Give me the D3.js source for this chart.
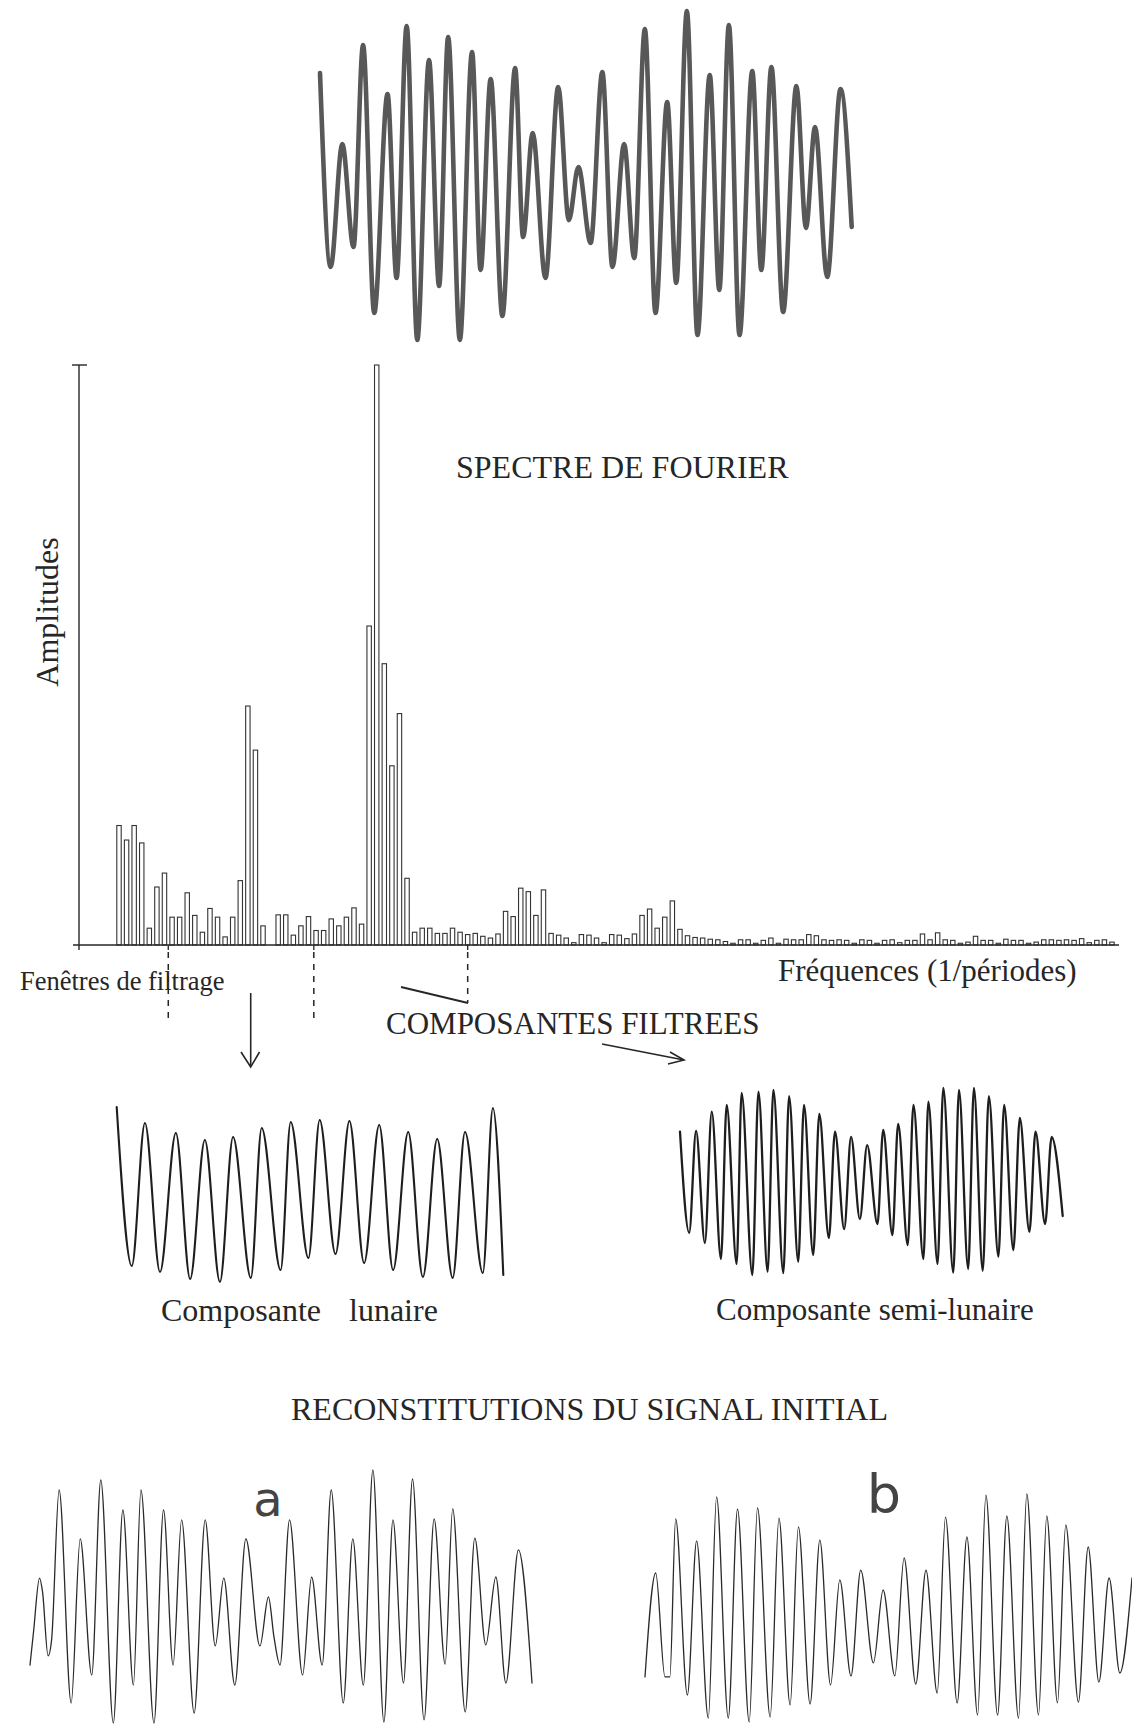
<!DOCTYPE html>
<html><head><meta charset="utf-8">
<script src="https://cdn.jsdelivr.net/npm/d3@7"></script>
<style>html,body{margin:0;padding:0;background:#fff;} svg{display:block}</style>
</head><body>
<svg id="c" width="1132" height="1724"></svg>
<script>
// ---------- DATA ----------
// Fourier spectrum: amplitude of each frequency bin (tallest = 100)
const spectrumAmp = [
 20.6,18.1,20.6,17.6,2.9,10.0,12.4,4.8,4.8,9.0,
 5.1,2.2,6.3,4.8,1.4,4.8,11.1,41.2,33.6,3.3,
 0,5.2,5.2,1.7,3.3,4.9,2.5,2.5,4.5,3.3,
 4.8,6.4,3.6,55.0,100,48.5,30.9,39.9,11.5,2.2,
 2.9,2.9,2.0,2.0,2.9,2.2,1.8,2.0,1.5,1.2,
 1.9,5.8,4.9,9.8,9.2,5.1,9.5,2.0,1.7,1.2,
 0.4,1.8,1.7,1.2,0.4,1.8,1.7,1.1,1.9,5.1,
 6.2,2.9,4.8,7.6,2.7,1.6,1.3,1.2,1.0,0.9,
 0.6,0.3,0.9,0.9,0.3,0.8,1.2,0.3,1.0,0.9,
 0.9,1.8,1.6,0.9,0.8,0.9,0.8,0.3,0.9,0.8,
 0.3,0.8,0.9,0.4,0.8,0.8,1.9,0.9,2.1,0.9,
 0.8,0.3,0.5,1.5,0.8,0.8,0.3,1.0,0.8,0.8,
 0.3,0.5,0.9,0.9,0.8,0.9,0.8,1.1,0.4,0.8,
 0.9,0.5
];
// Filter window boundaries (in frequency-bin units)
const windowFreq = [6.5, 25.7, 46.0];

// Original signal: successive extremes (time 0-100, amplitude -100..100)
const signalT = [0,2.0,4.2,6.3,8.1,10.2,12.7,14.4,16.3,18.3,20.5,22.4,24.1,26.3,28.6,30.2,32.1,34.3,36.7,38.2,40.0,42.4,44.8,46.8,48.6,50.9,53.1,55.0,57.2,59.1,61.1,63.1,65.3,67.0,69.0,71.0,73.3,75.1,76.9,78.9,81.3,83.0,84.9,87.1,89.6,91.4,93.1,95.4,97.9,100];
const signalV = [62.3,-55.6,19.1,-43.5,79.3,-83.6,49.5,-62.3,90.9,-100,70.2,-67.2,84.2,-100,75.1,-57.4,58.7,-85.4,65.3,-37.4,25.8,-62.3,53.8,-27.1,5.2,-41.0,62.9,-55.6,19.1,-50.2,89.1,-83.6,44.7,-65.3,100,-97.0,61.1,-69.6,91.5,-97.0,63.5,-57.4,66.0,-83.0,54.4,-31.9,29.5,-61.7,52.6,-31.3];

// Lunar component
const lunarT = [0,3.9,7.3,11.2,15.3,19.0,22.8,26.7,30.1,34.7,37.5,42.4,45.0,49.6,52.5,56.6,60.2,64.0,67.9,71.5,75.4,79.2,82.9,86.9,90.1,94.7,97.3,100];
const lunarV = [100,-81.7,81.7,-88.6,70.3,-96.6,62.3,-100,65.7,-95.4,76.0,-86.3,82.9,-72.6,85.1,-68.0,84.0,-78.3,79.4,-86.3,71.4,-94.3,63.4,-95.4,71.4,-89.7,98.9,-92.0];

// Semi-lunar component
const semiT = [0,2.4,4.2,6.5,8.3,10.7,12.2,14.8,16.1,18.9,20.5,22.9,24.4,27.0,28.5,30.9,32.4,34.8,36.4,38.9,40.5,42.9,44.7,47.0,48.9,51.6,53.1,55.5,57.0,59.5,61.0,63.6,64.9,67.3,68.8,71.4,72.9,75.3,76.8,79.1,80.7,83.2,84.7,87.1,88.8,91.3,92.9,95.4,97.1,100];
const semiV = [53.3,-54.8,54.0,-65.8,74.7,-82.9,81.8,-88.2,94.7,-100,96.0,-96.5,97.9,-97.9,91.4,-85.8,81.8,-78.6,72.2,-60.4,53.3,-50.8,47.6,-40.1,39.0,-45.5,55.1,-57.2,61.5,-67.9,81.8,-82.9,85.3,-88.2,100,-97.5,97.9,-93.6,100,-95.4,91.4,-80.4,81.8,-73.3,67.9,-53.7,53.3,-45.5,47.6,-36.9];

// Reconstruction a
const recAT = [0,0.7,1.9,2.5,3.6,4.3,5.8,8.2,10.0,12.3,14.1,16.6,18.5,20.6,22.1,24.7,26.6,28.5,30.2,32.7,34.9,36.9,38.6,40.8,43.0,45.8,47.5,48.6,49.8,51.7,54.3,56.1,58.2,60.0,62.4,64.3,66.4,68.3,70.5,72.3,74.4,76.2,78.5,80.5,82.7,84.2,86.7,88.6,90.8,92.8,94.8,97.3,100];
const recAV = [-54.2,-28.1,14.6,3.6,-47.0,-34.4,84.2,-84.2,45.5,-62.1,92.1,-100,68.4,-70.0,84.2,-100,68.4,-54.2,60.5,-92.1,60.5,-39.1,14.6,-70.0,45.5,-39.1,-0.4,-32.0,-54.2,60.5,-62.1,15.4,-54.2,84.2,-84.2,45.5,-70.0,100,-99.2,60.5,-68.4,92.9,-97.6,61.3,-53.4,69.2,-91.3,46.2,-38.3,15.4,-68.4,36.8,-68.4];

// Reconstruction b
const recBT = [0,2.2,4.1,5.1,6.3,8.7,10.6,13.0,14.7,17.1,19.0,21.4,23.1,25.7,27.5,29.8,31.5,33.9,35.9,38.1,40.0,42.3,44.3,46.9,48.9,51.3,53.2,55.6,57.7,60.0,61.7,64.1,66.1,68.3,70.0,72.4,74.3,76.7,78.4,80.8,82.5,84.7,86.4,89.0,91.0,93.2,95.3,97.5,100];
const recBV = [-60.5,30.7,-60.5,-60.5,78.1,-76.3,58.8,-96.5,97.4,-96.5,86.8,-100,87.7,-95.6,78.9,-85.1,71.1,-84.2,59.6,-67.5,24.6,-59.6,33.3,-48.2,15.8,-59.6,43.9,-66.7,33.3,-74.6,79.8,-83.3,62.3,-93.9,99.1,-93.9,80.7,-96.5,100,-93.9,80.7,-83.3,72.8,-82.5,53.5,-64.9,26.3,-57.0,26.3];

// Text labels
const titleSpectrum = "SPECTRE DE FOURIER";
const yLabel = "Amplitudes";
const xLabel = "Fréquences (1/périodes)";
const windowLabel = "Fenêtres de filtrage";
const titleComponents = "COMPOSANTES FILTREES";
const lunarLabel = ["Composante", "lunaire"];
const semiLabel = "Composante semi-lunaire";
const titleRecon = "RECONSTITUTIONS DU SIGNAL INITIAL";
const panelLetters = ["a", "b"];

// ---------- DRAWING ----------
const svg = d3.select("#c");
svg.append("rect").attr("width",1132).attr("height",1724).attr("fill","#fff");
const serif = "'Liberation Serif','Times New Roman',serif";
const ink = "#262626";

function wave(T, V, box, style) {
  const x = d3.scaleLinear().domain([0,100]).range([box.x0, box.x1]);
  const y = d3.scaleLinear().domain([-100,100]).range([box.yb, box.yt]);
  const line = d3.line().x(d => x(d[0])).y(d => y(d[1])).curve(style.curve || d3.curveMonotoneX);
  svg.append("path").datum(T.map((t,i)=>[t,V[i]]))
    .attr("d", line).attr("fill","none")
    .attr("stroke", style.color).attr("stroke-width", style.width)
    .attr("stroke-linejoin","round").attr("stroke-linecap","round");
}

// Original signal (top)
wave(signalT, signalV, {x0:320, x1:851.7, yt:11, yb:340}, {color:"#585858", width:4.6});

// Spectrum
const xBin = d3.scaleLinear().domain([0, spectrumAmp.length-1]).range([119, 119 + (spectrumAmp.length-1)*7.58]);
const yAmp = d3.scaleLinear().domain([0,100]).range([945, 365]);
const barW = 4.4;
const g = svg.append("g");
g.selectAll("rect.bar").data(spectrumAmp).join("rect")
  .attr("class","bar")
  .attr("x", (d,i) => xBin(i) - barW/2)
  .attr("y", d => yAmp(d))
  .attr("width", barW)
  .attr("height", d => yAmp(0) - yAmp(d))
  .attr("fill","#fff").attr("stroke", "#333").attr("stroke-width", 1.1);
// axes
g.append("line").attr("x1",79).attr("x2",79).attr("y1",yAmp(100)).attr("y2",yAmp(0)+5)
  .attr("stroke",ink).attr("stroke-width",1.4);
g.append("line").attr("x1",72).attr("x2",87).attr("y1",yAmp(100)).attr("y2",yAmp(100))
  .attr("stroke",ink).attr("stroke-width",1.4);
g.append("line").attr("x1",73).attr("x2",1119).attr("y1",yAmp(0)).attr("y2",yAmp(0))
  .attr("stroke",ink).attr("stroke-width",1.4);
// filter windows
windowFreq.forEach((f,i) => {
  const xx = xBin(f);
  g.append("line").attr("x1",xx).attr("x2",xx).attr("y1",yAmp(0)).attr("y2",yAmp(0)+5)
    .attr("stroke",ink).attr("stroke-width",1.3);
  g.append("line").attr("x1",xx).attr("x2",xx).attr("y1",yAmp(0)+7).attr("y2", i===2 ? 1003 : 1021)
    .attr("stroke",ink).attr("stroke-width",1.5).attr("stroke-dasharray","6,6");
});

svg.append("text").attr("x",456).attr("y",478).text(titleSpectrum)
  .attr("font-family",serif).attr("font-size",32).attr("fill",ink);
svg.append("text").attr("transform","translate(58,612) rotate(-90)").attr("text-anchor","middle")
  .text(yLabel).attr("font-family",serif).attr("font-size",32).attr("fill",ink);
svg.append("text").attr("x",778).attr("y",981).text(xLabel)
  .attr("font-family",serif).attr("font-size",31).attr("fill",ink);
svg.append("text").attr("x",20).attr("y",990).text(windowLabel)
  .attr("font-family",serif).attr("font-size",26.5).attr("fill",ink);
svg.append("text").attr("x",386).attr("y",1034).text(titleComponents)
  .attr("font-family",serif).attr("font-size",31).attr("fill",ink);

// arrows / connectors
svg.append("line").attr("x1",250.7).attr("x2",250.7).attr("y1",993).attr("y2",1066)
  .attr("stroke",ink).attr("stroke-width",1.6);
svg.append("path").attr("d","M241,1052 L250.7,1067 L259.5,1052").attr("fill","none")
  .attr("stroke",ink).attr("stroke-width",1.6);
svg.append("line").attr("x1",401).attr("y1",987).attr("x2",468).attr("y2",1003)
  .attr("stroke",ink).attr("stroke-width",1.8);
svg.append("line").attr("x1",602).attr("y1",1044).attr("x2",684).attr("y2",1060)
  .attr("stroke",ink).attr("stroke-width",1.6);
svg.append("path").attr("d","M670,1052 L684,1060 L668,1064").attr("fill","none")
  .attr("stroke",ink).attr("stroke-width",1.6);

// Components
wave(lunarT, lunarV, {x0:116.7, x1:503.3, yt:1107, yb:1282}, {color:"#1e1e1e", width:2.1});
wave(semiT, semiV, {x0:680, x1:1062.7, yt:1088, yb:1275}, {color:"#1e1e1e", width:2.3});
svg.append("text").attr("x",161).attr("y",1321).text(lunarLabel[0])
  .attr("font-family",serif).attr("font-size",32).attr("fill",ink);
svg.append("text").attr("x",349).attr("y",1321).text(lunarLabel[1])
  .attr("font-family",serif).attr("font-size",32).attr("fill",ink);
svg.append("text").attr("x",716).attr("y",1320).text(semiLabel)
  .attr("font-family",serif).attr("font-size",31).attr("fill",ink);

// Reconstructions
svg.append("text").attr("x",291).attr("y",1420).text(titleRecon)
  .attr("font-family",serif).attr("font-size",32).attr("fill",ink);
wave(recAT, recAV, {x0:30, x1:532, yt:1470, yb:1723}, {color:"#2a2a2a", width:1.3});
wave(recBT, recBV, {x0:645, x1:1132, yt:1494, yb:1722}, {color:"#2a2a2a", width:1.3});
svg.append("text").attr("x",268).attr("y",1516).attr("text-anchor","middle").text(panelLetters[0])
  .attr("font-family","'DejaVu Sans',sans-serif").attr("font-size",48).attr("fill","#444");
svg.append("text").attr("x",884).attr("y",1513).attr("text-anchor","middle").text(panelLetters[1])
  .attr("font-family","'DejaVu Sans',sans-serif").attr("font-size",54).attr("fill","#444");
</script>
</body></html>
